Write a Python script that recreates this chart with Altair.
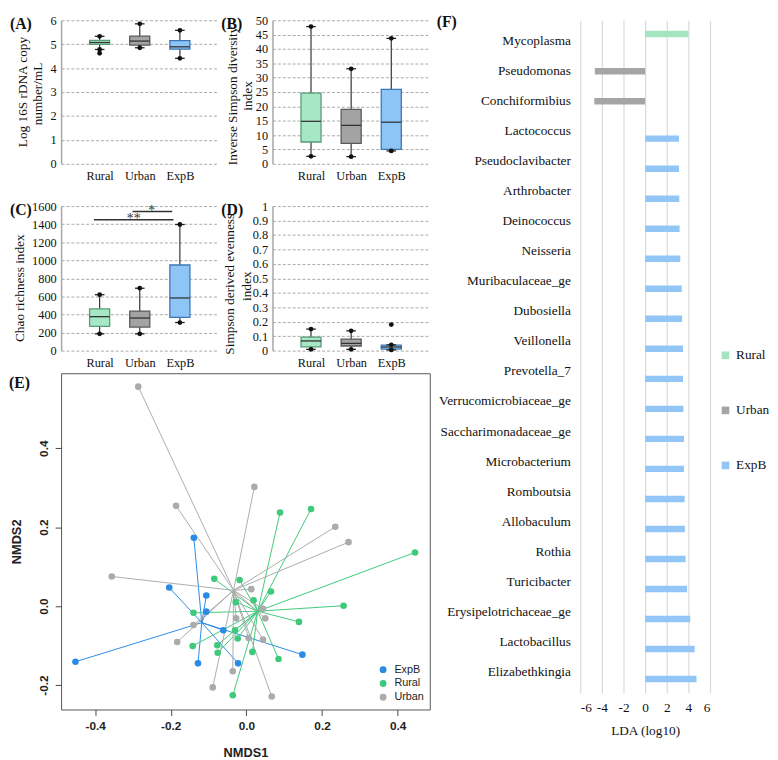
import altair as alt
import pandas as pd

SERIF = "Liberation Serif"
SANS = "Liberation Sans"

groups = ["Rural", "Urban", "ExpB"]
box_fill = ["#a6e7c6", "#a3a3a3", "#8ec5f7"]
box_edge = ["#5a9c78", "#5a5a5a", "#3c77b3"]

# ---- Panel A: Log 16S rDNA copy number/mL
a_lo = [4.78, 4.85, 4.41]
a_q1 = [4.99, 4.96, 4.79]
a_med = [5.07, 5.13, 4.89]
a_q3 = [5.16, 5.34, 5.15]
a_hi = [5.33, 5.85, 5.58]
a_out_group = ["Rural"]
a_out_val = [4.62]

# ---- Panel B: Inverse Simpson diversity index
b_lo = [2.6, 2.5, 4.5]
b_q1 = [7.6, 7.1, 5.0]
b_med = [14.8, 13.4, 14.5]
b_q3 = [24.6, 19.0, 25.9]
b_hi = [47.8, 33.1, 43.7]

# ---- Panel C: Chao richness index
c_lo = [186, 186, 311]
c_q1 = [268, 261, 369]
c_med = [376, 361, 583]
c_q3 = [462, 437, 948]
c_hi = [619, 691, 1396]
sig_label = ["**", "*"]
sig_from = [-0.14, 0.82]
sig_to = [1.84, 1.81]
sig_y = [1450, 1540]
sig_tx = [0.85, 1.3]

# ---- Panel D: Simpson derived evenness index
d_lo = [0.009, 0.009, 0.005]
d_q1 = [0.026, 0.032, 0.011]
d_med = [0.067, 0.050, 0.025]
d_q3 = [0.093, 0.079, 0.038]
d_hi = [0.149, 0.137, 0.040]
d_out_group = ["ExpB"]
d_out_val = [0.18]

# ---- Panel E: NMDS
e_exp_x = [-0.139, -0.204, -0.106, -0.106, -0.061, -0.452, -0.128, -0.022, 0.148]
e_exp_y = [0.173, 0.047, 0.027, -0.014, -0.061, -0.141, -0.145, -0.145, -0.123]
e_rur_x = [0.089, 0.171, -0.085, -0.018, 0.065, -0.028, 0.019, 0.257, -0.140, 0.139,
           -0.030, -0.023, -0.142, -0.077, -0.076, 0.016, 0.085, -0.036, 0.446]
e_rur_y = [0.237, 0.246, 0.069, 0.066, 0.037, 0.010, 0.015, 0.001, -0.017, -0.040,
           -0.061, -0.082, -0.101, -0.099, -0.118, -0.116, -0.134, -0.226, 0.136]
e_urb_x = [-0.286, 0.021, -0.186, 0.235, 0.270, -0.356, 0.013, 0.044, 0.050, -0.027,
           -0.140, -0.183, 0.006, 0.044, -0.036, -0.089, 0.067]
e_urb_y = [0.556, 0.302, 0.254, 0.201, 0.162, 0.075, 0.043, -0.007, -0.031, -0.031,
           -0.048, -0.091, -0.081, -0.085, -0.165, -0.206, -0.229]
e_groups = ["ExpB", "Rural", "Urban"]
e_cent_x = [-0.118, 0.030, -0.034]
e_cent_y = [-0.042, -0.013, 0.040]
e_colors = ["#2a8be6", "#3ec97b", "#ababab"]

# ---- Panel F: LEfSe LDA
taxa = ["Mycoplasma", "Pseudomonas", "Conchiformibius", "Lactococcus", "Pseudoclavibacter",
        "Arthrobacter", "Deinococcus", "Neisseria", "Muribaculaceae_ge", "Dubosiella",
        "Veillonella", "Prevotella_7", "Verrucomicrobiaceae_ge", "Saccharimonadaceae_ge",
        "Microbacterium", "Romboutsia", "Allobaculum", "Rothia", "Turicibacter",
        "Erysipelotrichaceae_ge", "Lactobacillus", "Elizabethkingia"]
lda_group = ["Rural", "Urban", "Urban"] + ["ExpB"] * 19
lda = [4.0, -4.65, -4.7, 3.13, 3.13, 3.16, 3.19, 3.25, 3.39, 3.42, 3.5, 3.5, 3.54,
       3.59, 3.59, 3.65, 3.68, 3.74, 3.88, 4.17, 4.58, 4.75]
f_colors = ["#a3e4c1", "#a5a5a5", "#92c6f6"]

HYPHEN = "replace(format(datum.value, '.1f'), '\u2212', '-')"


def letter_layer(letter, dx, dy):
    return alt.Chart(pd.DataFrame({"t": [letter]})).mark_text(
        font=SERIF, fontSize=16, fontWeight="bold", align="left", baseline="middle",
        color="#111").encode(x=alt.value(dx), y=alt.value(dy), text="t:N")


def ytitle_layer(text, dx, y):
    return alt.Chart(pd.DataFrame({"t": [text]})).mark_text(
        font=SERIF, fontSize=13.5, angle=270, align="center", baseline="middle",
        color="#111").encode(x=alt.value(dx), y=alt.value(y), text="t:N")


def box_panel(lo, q1, med, q3, hi, ymax, ystep, titles, letter, w, h,
              out_group=None, out_val=None, sig=False):
    df = pd.DataFrame({"group": groups, "idx": [0, 1, 2], "lo": lo, "q1": q1,
                       "med": med, "q3": q3, "hi": hi})
    xs = alt.Scale(domain=[-0.96, 2.96], nice=False, zero=False)
    ys = alt.Scale(domain=[0, ymax], nice=False, zero=True)
    n = int(round(ymax / ystep))
    yvals = [round(i * ystep, 6) for i in range(n + 1)]
    xaxis = alt.Axis(values=[0, 1, 2], labelExpr="['Rural','Urban','ExpB'][datum.value]",
                     grid=False, domain=False, ticks=False, title=None, labelFont=SERIF,
                     labelFontSize=12.5, labelColor="#111", labelPadding=6)
    yaxis = alt.Axis(values=yvals, labelExpr="format(datum.value, '~g')", grid=True,
                     gridDash=[3, 2], gridColor="#a8a8a8",
                     gridWidth=1, domain=True, domainColor="#a6a6a6", domainWidth=1.5,
                     ticks=False, labelFont=SERIF, labelFontSize=12.5, labelColor="#111",
                     labelPadding=5, title=None)

    def X(f):
        return alt.X(f, type="quantitative", scale=xs, axis=xaxis)

    def Y(f):
        return alt.Y(f, type="quantitative", scale=ys, axis=yaxis)

    base = alt.Chart(df).transform_calculate(
        x0="datum.idx - 0.25", x1="datum.idx + 0.25",
        c0="datum.idx - 0.12", c1="datum.idx + 0.12")
    whisk = base.mark_rule(color="#333", strokeWidth=1.2).encode(x=X("idx"), y=Y("lo"), y2="hi")
    box = base.mark_rect(strokeWidth=1.3).encode(
        x=X("x0"), x2="x1", y=Y("q1"), y2="q3",
        fill=alt.Fill("group:N", scale=alt.Scale(domain=groups, range=box_fill), legend=None),
        stroke=alt.Stroke("group:N", scale=alt.Scale(domain=groups, range=box_edge), legend=None))
    medr = base.mark_rule(color="#333", strokeWidth=1.3).encode(x=X("x0"), x2="x1", y=Y("med"))
    caphi = base.mark_rule(color="#222", strokeWidth=1.3).encode(x=X("c0"), x2="c1", y=Y("hi"))
    caplo = base.mark_rule(color="#222", strokeWidth=1.3).encode(x=X("c0"), x2="c1", y=Y("lo"))
    dothi = base.mark_circle(color="#111", size=24, opacity=1).encode(x=X("idx"), y=Y("hi"))
    dotlo = base.mark_circle(color="#111", size=24, opacity=1).encode(x=X("idx"), y=Y("lo"))
    layers = [whisk, box, medr, caphi, caplo, dothi, dotlo]
    if out_group:
        odf = pd.DataFrame({"idx": [groups.index(g) for g in out_group], "val": out_val})
        layers.append(alt.Chart(odf).mark_circle(color="#111", size=24, opacity=1).encode(
            x=X("idx"), y=Y("val")))
    if sig:
        sdf = pd.DataFrame({"label": sig_label, "xa": sig_from, "xb": sig_to, "y": sig_y,
                            "tx": sig_tx})
        sdf["ty"] = sdf["y"] - 40
        layers.append(alt.Chart(sdf).mark_rule(color="#333", strokeWidth=1.5).encode(
            x=X("xa"), x2="xb", y=Y("y")))
        layers.append(alt.Chart(sdf).mark_text(font=SERIF, fontSize=14, color="#333",
                                               baseline="alphabetic").encode(
            x=X("tx"), y=Y("ty"), text="label:N"))
    for text, dx, dy in titles:
        layers.append(ytitle_layer(text, dx, h / 2 + dy))
    layers.append(letter_layer(letter, -52, 4))
    return alt.layer(*layers).properties(width=w, height=h)


PW = 160
A = box_panel(a_lo, a_q1, a_med, a_q3, a_hi, 6, 1,
              [("Log 16S rDNA copy", -39, 0), ("number/mL", -23, 2)], "(A)",
              PW, 146, a_out_group, a_out_val)
B = box_panel(b_lo, b_q1, b_med, b_q3, b_hi, 50, 5,
              [("Inverse Simpson diversity", -40, 4), ("index", -25, 4)], "(B)", PW, 146)
C = box_panel(c_lo, c_q1, c_med, c_q3, c_hi, 1600, 200,
              [("Chao richness index", -42, 10)], "(C)", PW, 147, sig=True)
D = box_panel(d_lo, d_q1, d_med, d_q3, d_hi, 1, 0.1,
              [("Simpson derived evenness", -43, 6), ("index", -26, 8)], "(D)",
              PW, 147, d_out_group, d_out_val)

# ---- Panel E
e_rows = []
for g, xs_, ys_ in [("ExpB", e_exp_x, e_exp_y), ("Rural", e_rur_x, e_rur_y),
                    ("Urban", e_urb_x, e_urb_y)]:
    k = e_groups.index(g)
    for xv, yv in zip(xs_, ys_):
        e_rows.append({"group": g, "x": xv, "y": yv, "cx": e_cent_x[k], "cy": e_cent_y[k]})
e_df = pd.DataFrame(e_rows)
ex_scale = alt.Scale(domain=[-0.49, 0.485], nice=False, zero=False)
ey_scale = alt.Scale(domain=[-0.262, 0.59], nice=False, zero=False)
e_xaxis = alt.Axis(values=[-0.4, -0.2, 0, 0.2, 0.4], labelExpr=HYPHEN, grid=False, domain=False,
                   ticks=True, tickSize=6, tickColor="#444", labelFont=SANS,
                   labelFontWeight="bold", labelFontSize=12, labelColor="#222", labelPadding=5,
                   title="NMDS1", titleFont=SANS, titleFontSize=13, titleFontWeight="bold",
                   titleColor="#222", titlePadding=16)
e_yaxis = alt.Axis(values=[-0.2, 0, 0.2, 0.4], labelExpr=HYPHEN, grid=False, domain=False,
                   ticks=True, tickSize=6, tickColor="#444", labelFont=SANS, labelAngle=270,
                   labelFontWeight="bold", labelFontSize=12, labelColor="#222", labelPadding=5,
                   title="NMDS2", titleFont=SANS, titleFontSize=13, titleFontWeight="bold",
                   titleColor="#222", titlePadding=14)
e_cscale = alt.Scale(domain=e_groups, range=e_colors)
e_legend = alt.Legend(orient="bottom-right", title=None, labelFont=SANS,
                      labelFontSize=11, labelColor="#222", symbolSize=30,
                      symbolType="circle", rowPadding=1, offset=6, padding=0,
                      labelOffset=6)
e_rules = alt.Chart(e_df).mark_rule(strokeWidth=1).encode(
    x=alt.X("x:Q", scale=ex_scale, axis=e_xaxis), y=alt.Y("y:Q", scale=ey_scale, axis=e_yaxis),
    x2="cx", y2="cy", color=alt.Color("group:N", scale=e_cscale, legend=e_legend))
e_pts = alt.Chart(e_df).mark_circle(size=45, opacity=1).encode(
    x=alt.X("x:Q", scale=ex_scale, axis=e_xaxis), y=alt.Y("y:Q", scale=ey_scale, axis=e_yaxis),
    color=alt.Color("group:N", scale=e_cscale, legend=e_legend))
E = alt.layer(e_rules, e_pts, letter_layer("(E)", -53, 10)).properties(
    width=375, height=342, view=alt.ViewBackground(stroke="#555", strokeWidth=1))

# ---- Panel F
f_df = pd.DataFrame({"taxon": taxa, "group": lda_group, "lda": lda})
F_bars = alt.Chart(f_df).mark_bar().encode(
    y=alt.Y("taxon:N", sort=taxa, scale=alt.Scale(paddingInner=0.3, paddingOuter=0.35),
            axis=alt.Axis(title=None, domain=False, ticks=False, labelFont=SERIF,
                          labelFontSize=13.5, labelColor="#111", labelPadding=10, labelLimit=0)),
    yOffset=alt.YOffset("group:N", sort=groups, scale=alt.Scale(domain=groups, paddingInner=0.12)),
    x=alt.X("lda:Q", scale=alt.Scale(domain=[-6, 6], nice=False),
            axis=alt.Axis(values=[-6, -4, -2, 0, 2, 4, 6], labelExpr="'' + datum.value",
                          grid=True, gridColor="#d9d9d9",
                          gridWidth=1.2, domain=False, ticks=False, labelFont=SERIF,
                          labelFontSize=13.5, labelColor="#111", labelPadding=8,
                          title="LDA (log10)", titleFont=SERIF, titleFontSize=13.5,
                          titleFontWeight="normal", titleColor="#111", titlePadding=10)),
    color=alt.Color("group:N", scale=alt.Scale(domain=groups, range=f_colors),
                    legend=alt.Legend(orient="none", legendX=141, legendY=334, title=None,
                                      symbolType="square", symbolSize=60, labelFont=SERIF,
                                      labelFontSize=13.5, labelColor="#111", rowPadding=41,
                                      labelOffset=4)))
F = alt.layer(F_bars, letter_layer("(F)", -146, 2)).properties(width=132, height=684)

row1 = alt.hconcat(A, B, spacing=55, bounds="flush")
row2 = alt.hconcat(C, D, spacing=55, bounds="flush")
top = alt.vconcat(row1, row2, spacing=18)
left = alt.vconcat(top, E, spacing=3).resolve_scale(color="independent")
chart = alt.hconcat(left, F, spacing=6).resolve_scale(
    color="independent", fill="independent", stroke="independent"
).properties(padding={"top": 0, "left": 0, "right": 0, "bottom": 0},
             background="white").configure_view(stroke=None)

chart.save("out.html", embed_options={"renderer": "svg", "actions": False})
